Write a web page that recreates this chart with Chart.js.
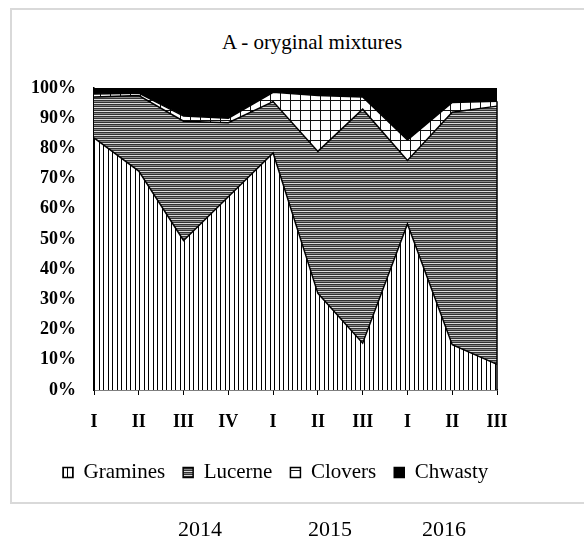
<!DOCTYPE html>
<html lang="en">
<head>
<meta charset="UTF-8">
<title>A - oryginal mixtures</title>
<script src="https://cdn.jsdelivr.net/npm/chart.js"></script>
<style>
    body { margin: 0; background: #fff; font-family: 'Liberation Serif', 'Times New Roman', serif; color: #000; }
    #wrap { position: relative; width: 584px; height: 543px; overflow: hidden; }
    .frame { position: absolute; left: 10px; top: 8px; width: 640px; height: 492px; border: 2px solid #d9d9d9; border-right: none; }
    .title { position: absolute; left: 112px; width: 400px; top: 30px; text-align: center; font-size: 21px; }
    .year { position: absolute; top: 516px; font-size: 22px; transform: translateX(-50%); }
    canvas { position: absolute; left: 0; top: 0; }
</style>
</head>
<body>
<div id="wrap">
    <div class="frame"></div>
    <div class="title">A - oryginal mixtures</div>
    <canvas id="chart" width="584" height="543"></canvas>
    <div id="years"></div>
</div>

<script>
// quarters / cuts along the x axis
const periods = ['I', 'II', 'III', 'IV', 'I', 'II', 'III', 'I', 'II', 'III'];

// share of each group, %
const gramines = [83.5, 72.5, 49.5, 64, 78.5, 32, 15.5, 55, 15, 8.5];
const lucerne  = [13.5, 25, 39.5, 24.5, 17, 47, 77.5, 21, 77, 85.5];
const clovers  = [1, 0.8, 1.7, 1.5, 3.1, 18.5, 4, 6.8, 3.2, 1.6];
const chwasty  = [2, 1.7, 9.3, 10, 1.4, 2.5, 3, 17.2, 4.8, 4.4];

const yTicks = [0, 10, 20, 30, 40, 50, 60, 70, 80, 90, 100];

const years = ['2014', '2015', '2016'];
const yearX = [200, 330, 444];

const FONT = "'Liberation Serif', 'Times New Roman', serif";

// years written under the frame
const yearsBox = document.getElementById('years');
years.forEach((y, i) => {
    const s = document.createElement('div');
    s.className = 'year';
    s.style.left = yearX[i] + 'px';
    s.textContent = y;
    yearsBox.appendChild(s);
});

const ctx = document.getElementById('chart').getContext('2d');

function makePattern(w, h, draw) {
    const c = document.createElement('canvas');
    c.width = w; c.height = h;
    const g = c.getContext('2d');
    g.fillStyle = '#fff';
    g.fillRect(0, 0, w, h);
    draw(g);
    return ctx.createPattern(c, 'repeat');
}

// vertical lines
const vLines = makePattern(9, 1, g => {
    g.fillStyle = '#000';
    g.fillRect(0, 0, 1, 1);
    g.fillRect(4, 0, 1, 1);
});
// dense horizontal lines
const hLines = makePattern(1, 4, g => {
    g.fillStyle = '#333'; g.fillRect(0, 0, 1, 1);
    g.fillStyle = '#888'; g.fillRect(0, 1, 1, 1);
    g.fillStyle = '#333'; g.fillRect(0, 2, 1, 1);
    g.fillStyle = '#ddd'; g.fillRect(0, 3, 1, 1);
});
// grid
const grid = makePattern(10, 10, g => {
    g.fillStyle = '#111';
    g.fillRect(0, 0, 10, 1);
    g.fillRect(0, 0, 1, 10);
});

// closing line on the right edge of the filled areas
const edgeLine = {
    id: 'edgeLine',
    afterDatasetsDraw(chart) {
        const { ctx, chartArea, scales } = chart;
        const last = periods.length - 1;
        const top = gramines[last] + lucerne[last] + clovers[last];
        ctx.save();
        ctx.strokeStyle = '#000';
        ctx.lineWidth = 1.5;
        ctx.beginPath();
        ctx.moveTo(chartArea.right, scales.y.getPixelForValue(0));
        ctx.lineTo(chartArea.right, scales.y.getPixelForValue(top));
        ctx.stroke();
        ctx.restore();
    }
};

// legend row starts a bit right of the y labels
const legendShift = {
    id: 'legendShift',
    afterLayout(chart) {
        chart.legend.left = 45;
    }
};

function area(label, data, bg, fill) {
    return {
        label: label,
        data: data,
        backgroundColor: bg,
        borderColor: '#000',
        borderWidth: 1.5,
        pointRadius: 0,
        tension: 0,
        fill: fill
    };
}

new Chart(ctx, {
    type: 'line',
    data: {
        labels: periods,
        datasets: [
            area('Gramines', gramines, vLines, 'origin'),
            area('Lucerne', lucerne, hLines, '-1'),
            area('Clovers', clovers, grid, '-1'),
            area('Chwasty', chwasty, '#000', '-1')
        ]
    },
    options: {
        responsive: false,
        animation: false,
        devicePixelRatio: 1,
        layout: { padding: { left: 20, right: 20, top: 88, bottom: 50 } },
        plugins: {
            title: { display: false },
            tooltip: { enabled: false },
            legend: {
                position: 'bottom',
                align: 'start',
                labels: {
                    boxWidth: 10,
                    boxHeight: 10,
                    padding: 18,
                    color: '#000',
                    font: { family: FONT, size: 21 }
                }
            }
        },
        scales: {
            x: {
                offset: false,
                grid: { drawOnChartArea: false, drawTicks: true, tickLength: 5, color: '#000', lineWidth: 1 },
                border: { color: '#000', width: 1.5 },
                ticks: {
                    color: '#000',
                    autoSkip: false,
                    maxRotation: 0,
                    padding: 17,
                    font: { family: FONT, size: 18, weight: 'bold' }
                },
                afterFit: s => { s.height = 54; }
            },
            y: {
                stacked: true,
                min: 0,
                max: 100,
                afterBuildTicks: s => { s.ticks = yTicks.map(v => ({ value: v })); },
                grid: { display: false, drawTicks: false },
                border: { color: '#000', width: 1.5 },
                ticks: {
                    color: '#000',
                    padding: 18,
                    callback: v => v + '%',
                    font: { family: FONT, size: 18, weight: 'bold' }
                },
                afterFit: s => { s.width = 74; }
            },
            // empty spacer on the right so the plot ends where the original does
            spacer: {
                type: 'linear',
                position: 'right',
                display: true,
                grid: { display: false, drawTicks: false },
                border: { display: false },
                ticks: { display: false },
                afterFit: s => { s.width = 67; }
            }
        }
    },
    plugins: [edgeLine, legendShift]
});
</script>
</body>
</html>
